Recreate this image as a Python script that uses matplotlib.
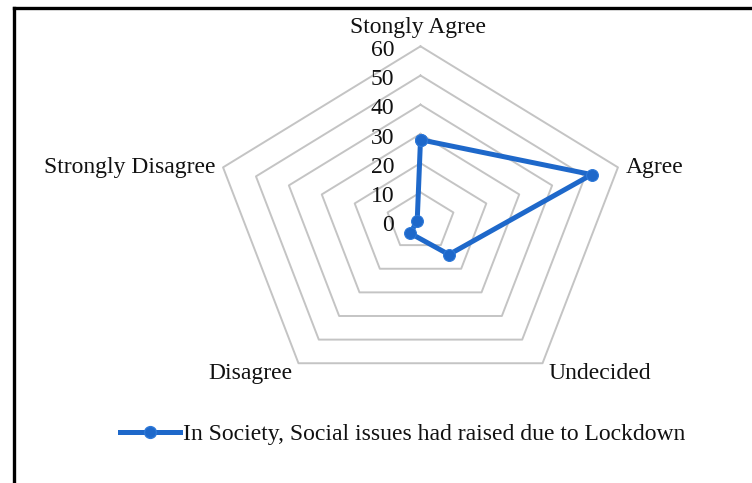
import numpy as np
import matplotlib
matplotlib.use("Agg")
import matplotlib.pyplot as plt
from matplotlib.lines import Line2D

categories = ["Stongly Agree", "Agree", "Undecided", "Disagree", "Strongly Disagree"]
values = [28, 52, 14, 5, 1]
ticks = [0, 10, 20, 30, 40, 50, 60]
series_name = "In Society, Social issues had raised due to Lockdown"

W, H = 752, 483
fig = plt.figure(figsize=(W / 100, H / 100), dpi=100)
ax = fig.add_axes([0, 0, 1, 1])

cx, cy = 420.5, 221.5
k = 2.92         # px per unit vertically
sx = 1.185       # horizontal stretch
ax.set_xlim(-cx / (sx * k), (W - cx) / (sx * k))
ax.set_ylim(-(H - cy) / k, cy / k)
ax.axis("off")

n = len(categories)
ang = np.deg2rad(90 - 72 * np.arange(n))
ang_c = np.append(ang, ang[0])

# grid rings
for r in ticks[1:]:
    ax.plot(r * np.cos(ang_c), r * np.sin(ang_c), color="#C4C4C4", lw=1.4, zorder=1)

# data
vals = np.array(values + values[:1], dtype=float)
col = "#1E68CA"
ax.plot(vals * np.cos(ang_c), vals * np.sin(ang_c), color=col, lw=3.6,
        marker="o", markersize=8.5, markeredgecolor="#2D78D8", markeredgewidth=0.8,
        zorder=3, solid_capstyle="round", label=series_name)

font = "Liberation Serif"
fs = 17
tc = "#111111"
# tick labels
for t in ticks:
    ax.text(-7.6, t - 0.6, str(t), ha="right", va="center_baseline", fontsize=fs,
            family=font, color=tc)

# category labels (baseline positions)
lab_pos = [
    (418 / W, 1 - 33 / H, "center"),
    (626 / W, 1 - 173 / H, "left"),
    (548 / W, 1 - 379 / H, "left"),
    (292 / W, 1 - 379 / H, "right"),
    (215 / W, 1 - 173 / H, "right"),
]
for cat, (x, y, ha) in zip(categories, lab_pos):
    fig.text(x, y, cat, ha=ha, va="baseline", fontsize=fs, family=font, color=tc)

# legend
leg = fig.legend(handles=[Line2D([], [], color=col, lw=3.6, marker="o", markersize=8.5,
                                 markeredgecolor="#2D78D8")],
                 labels=[series_name], loc="center left",
                 bbox_to_anchor=(120 / W, 1 - 434 / H), frameon=False,
                 borderpad=0, borderaxespad=0, handlelength=2.55, handletextpad=0.1,
                 prop={"family": font, "size": fs})
for t in leg.get_texts():
    t.set_color(tc)

# outer frame (top and left edges)
fig.add_artist(Line2D([13.5 / W, 1], [1 - 8 / H, 1 - 8 / H], transform=fig.transFigure,
                      color="black", lw=2.4))
fig.add_artist(Line2D([13.5 / W, 13.5 / W], [1 - 8 / H, 0], transform=fig.transFigure,
                      color="black", lw=2.4))

fig.savefig("out.png", dpi=100)
